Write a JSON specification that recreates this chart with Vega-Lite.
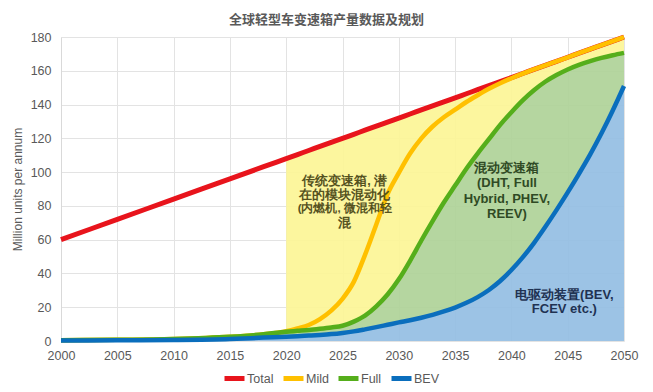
{
  "$schema": "https://vega.github.io/schema/vega-lite/v6.json",
  "width": 563,
  "height": 304,
  "autosize": {"type": "none"},
  "padding": {"left": 61, "top": 37, "right": 29, "bottom": 51},
  "background": "white",
  "config": {
    "font": "Liberation Sans",
    "view": {"stroke": null},
    "axis": {"labelColor": "#595959", "labelFontSize": 12.5, "gridColor": "#e3e3e3", "ticks": false, "labelOverlap": false, "labelFlush": false},
    "axisY": {"tickCount": 20},
    "axisX": {"tickCount": 20}
  },
  "title": {"text": "全球轻型车变速箱产量数据及规划", "fontSize": 13, "fontWeight": "bold", "color": "#595959", "font": "Noto Sans CJK SC", "dx": -16, "offset": 0},
  "datasets": {
    "series": [
      {"year": 2000, "Total": 60, "Mild": 0.5, "Full": 0.5, "BEV": 0.3},
      {"year": 2005, "Total": 72, "Mild": 0.7, "Full": 0.7, "BEV": 0.4},
      {"year": 2010, "Total": 84, "Mild": 1.2, "Full": 1.2, "BEV": 0.6},
      {"year": 2015, "Total": 96, "Mild": 2.5, "Full": 2.5, "BEV": 1.2},
      {"year": 2018, "Total": 103.2, "Mild": 4, "Full": 4, "BEV": 2},
      {"year": 2020, "Total": 108, "Mild": 5.8, "Full": 5.5, "BEV": 2.5},
      {"year": 2021, "Total": 110.4, "Mild": 7.5, "Full": 6, "BEV": 2.8},
      {"year": 2022, "Total": 112.8, "Mild": 9.5, "Full": 6.5, "BEV": 3.2},
      {"year": 2023, "Total": 115.2, "Mild": 13, "Full": 7.2, "BEV": 3.6},
      {"year": 2024, "Total": 117.6, "Mild": 18, "Full": 8, "BEV": 4.1},
      {"year": 2025, "Total": 120, "Mild": 25, "Full": 9, "BEV": 4.8},
      {"year": 2026, "Total": 122.4, "Mild": 35, "Full": 11.5, "BEV": 5.7},
      {"year": 2027, "Total": 124.8, "Mild": 51, "Full": 15, "BEV": 6.9},
      {"year": 2028, "Total": 127.2, "Mild": 69, "Full": 20.5, "BEV": 8.2},
      {"year": 2029, "Total": 129.6, "Mild": 87, "Full": 27.5, "BEV": 9.6},
      {"year": 2030, "Total": 132, "Mild": 99.5, "Full": 36.5, "BEV": 11},
      {"year": 2031, "Total": 134.4, "Mild": 111, "Full": 47.5, "BEV": 12.3},
      {"year": 2032, "Total": 136.8, "Mild": 120, "Full": 59.5, "BEV": 13.8},
      {"year": 2033, "Total": 139.2, "Mild": 127, "Full": 71, "BEV": 15.5},
      {"year": 2034, "Total": 141.6, "Mild": 132.5, "Full": 82, "BEV": 17.5},
      {"year": 2035, "Total": 144, "Mild": 137, "Full": 92, "BEV": 19.8},
      {"year": 2036, "Total": 146.4, "Mild": 141.5, "Full": 102, "BEV": 22.6},
      {"year": 2037, "Total": 148.8, "Mild": 145.5, "Full": 111, "BEV": 26},
      {"year": 2038, "Total": 151.2, "Mild": 149.3, "Full": 119.5, "BEV": 30.2},
      {"year": 2039, "Total": 153.6, "Mild": 152.6, "Full": 128, "BEV": 35.5},
      {"year": 2040, "Total": 156, "Mild": 155.6, "Full": 135.5, "BEV": 42},
      {"year": 2041, "Total": 158.4, "Mild": 158.3, "Full": 142.5, "BEV": 49.5},
      {"year": 2042, "Total": 160.8, "Mild": 160.8, "Full": 148.5, "BEV": 58},
      {"year": 2043, "Total": 163.2, "Mild": 163.2, "Full": 153.5, "BEV": 67.5},
      {"year": 2044, "Total": 165.6, "Mild": 165.6, "Full": 157.5, "BEV": 77.5},
      {"year": 2045, "Total": 168, "Mild": 168, "Full": 160.8, "BEV": 88},
      {"year": 2046, "Total": 170.4, "Mild": 170.4, "Full": 163.5, "BEV": 99},
      {"year": 2047, "Total": 172.8, "Mild": 172.8, "Full": 165.7, "BEV": 110.5},
      {"year": 2048, "Total": 175.2, "Mild": 175.2, "Full": 167.6, "BEV": 123},
      {"year": 2049, "Total": 177.6, "Mild": 177.6, "Full": 169.2, "BEV": 136.5},
      {"year": 2050, "Total": 180, "Mild": 180, "Full": 170.6, "BEV": 151}
    ],
    "labels": [
      {"group": "conv", "year": 2025.2, "value": 94.7, "text": "传统变速箱, 潜"},
      {"group": "conv", "year": 2025.2, "value": 86.4, "text": "在的模块混动化"},
      {"group": "conv_small", "year": 2025.2, "value": 77.9, "text": "(内燃机, 微混和轻"},
      {"group": "conv", "year": 2025.2, "value": 70.1, "text": "混"},
      {"group": "hybrid", "year": 2039.6, "value": 102.6, "text": "混动变速箱"},
      {"group": "hybrid", "year": 2039.6, "value": 93.3, "text": "(DHT, Full"},
      {"group": "hybrid", "year": 2039.6, "value": 84.3, "text": "Hybrid, PHEV,"},
      {"group": "hybrid", "year": 2039.6, "value": 75.4, "text": "REEV)"},
      {"group": "bev", "year": 2044.7, "value": 27.2, "text": "电驱动装置(BEV,"},
      {"group": "bev", "year": 2044.7, "value": 19.2, "text": "FCEV etc.)"}
    ]
  },
  "layer": [
    {
      "data": {"name": "series"},
      "transform": [{"filter": "datum.year >= 2020"}],
      "mark": {"type": "area", "color": "#FCF596", "opacity": 0.92, "interpolate": "monotone"},
      "encoding": {
        "x": {"field": "year", "type": "quantitative", "scale": {"domain": [2000, 2050], "nice": false},
          "axis": {"values": [2000, 2005, 2010, 2015, 2020, 2025, 2030, 2035, 2040, 2045, 2050], "tickCount": 20, "format": "d", "title": null, "domain": false, "labelPadding": 8, "grid": true}},
        "y": {"field": "Total", "type": "quantitative", "scale": {"domain": [0, 180], "nice": false},
          "axis": {"values": [0, 20, 40, 60, 80, 100, 120, 140, 160, 180], "tickCount": 20, "title": "Million units per annum", "titleFontSize": 12, "titleFontWeight": "normal", "titleColor": "#595959", "titlePadding": 6, "domain": true, "domainColor": "#d9d9d9", "labelPadding": 10, "grid": true}},
        "y2": {"field": "Full"}
      }
    },
    {
      "data": {"name": "series"},
      "mark": {"type": "area", "color": "#ADD296", "opacity": 0.9, "interpolate": "monotone"},
      "encoding": {
        "x": {"field": "year", "type": "quantitative"},
        "y": {"field": "Full", "type": "quantitative"},
        "y2": {"field": "BEV"}
      }
    },
    {
      "data": {"name": "series"},
      "mark": {"type": "area", "color": "#94BEE3", "opacity": 0.93, "interpolate": "monotone"},
      "encoding": {
        "x": {"field": "year", "type": "quantitative"},
        "y": {"field": "BEV", "type": "quantitative"}
      }
    },
    {
      "data": {"name": "series"},
      "transform": [{"fold": ["Total", "Mild", "Full", "BEV"], "as": ["series", "val"]}, {"filter": "datum.series === 'Total'"}],
      "mark": {"type": "line", "strokeWidth": 5, "interpolate": "monotone"},
      "encoding": {
        "x": {"field": "year", "type": "quantitative"},
        "y": {"field": "val", "type": "quantitative"},
        "color": {"field": "series", "type": "nominal",
          "scale": {"domain": ["Total", "Mild", "Full", "BEV"], "range": ["#E8141C", "#FFC000", "#55AE1B", "#0A6EBD"]},
          "legend": {"orient": "none", "legendX": 161, "legendY": 329, "direction": "horizontal", "gridAlign": "none", "title": null, "symbolType": "stroke", "symbolStrokeWidth": 5, "symbolSize": 400, "labelFontSize": 12.5, "labelColor": "#595959", "labelOffset": 0, "columnPadding": -1}}
      }
    },
    {
      "data": {"name": "series"},
      "transform": [{"fold": ["Total", "Mild", "Full", "BEV"], "as": ["series", "val"]}, {"filter": "datum.series === 'Mild'"}],
      "mark": {"type": "line", "strokeWidth": 4.5, "interpolate": "monotone"},
      "encoding": {
        "x": {"field": "year", "type": "quantitative"},
        "y": {"field": "val", "type": "quantitative"},
        "color": {"field": "series", "type": "nominal"}
      }
    },
    {
      "data": {"name": "series"},
      "transform": [{"fold": ["Total", "Mild", "Full", "BEV"], "as": ["series", "val"]}, {"filter": "datum.series === 'Full'"}],
      "mark": {"type": "line", "strokeWidth": 4.5, "interpolate": "monotone"},
      "encoding": {
        "x": {"field": "year", "type": "quantitative"},
        "y": {"field": "val", "type": "quantitative"},
        "color": {"field": "series", "type": "nominal"}
      }
    },
    {
      "data": {"name": "series"},
      "transform": [{"fold": ["Total", "Mild", "Full", "BEV"], "as": ["series", "val"]}, {"filter": "datum.series === 'BEV'"}],
      "mark": {"type": "line", "strokeWidth": 4.5, "interpolate": "monotone"},
      "encoding": {
        "x": {"field": "year", "type": "quantitative"},
        "y": {"field": "val", "type": "quantitative"},
        "color": {"field": "series", "type": "nominal"}
      }
    },
    {
      "data": {"name": "labels"},
      "transform": [{"filter": "datum.group === 'conv'"}],
      "mark": {"type": "text", "fontSize": 12.5, "fontWeight": "bold", "color": "#55521E", "align": "center", "baseline": "middle"},
      "encoding": {
        "x": {"field": "year", "type": "quantitative"},
        "y": {"field": "value", "type": "quantitative"},
        "text": {"field": "text"}
      }
    },
    {
      "data": {"name": "labels"},
      "transform": [{"filter": "datum.group === 'conv_small'"}],
      "mark": {"type": "text", "fontSize": 11.5, "fontWeight": "bold", "color": "#55521E", "align": "center", "baseline": "middle"},
      "encoding": {
        "x": {"field": "year", "type": "quantitative"},
        "y": {"field": "value", "type": "quantitative"},
        "text": {"field": "text"}
      }
    },
    {
      "data": {"name": "labels"},
      "transform": [{"filter": "datum.group === 'hybrid'"}],
      "mark": {"type": "text", "fontSize": 13, "fontWeight": "bold", "color": "#2F4A24", "align": "center", "baseline": "middle"},
      "encoding": {
        "x": {"field": "year", "type": "quantitative"},
        "y": {"field": "value", "type": "quantitative"},
        "text": {"field": "text"}
      }
    },
    {
      "data": {"name": "labels"},
      "transform": [{"filter": "datum.group === 'bev'"}],
      "mark": {"type": "text", "fontSize": 13, "fontWeight": "bold", "color": "#1F3252", "align": "center", "baseline": "middle"},
      "encoding": {
        "x": {"field": "year", "type": "quantitative"},
        "y": {"field": "value", "type": "quantitative"},
        "text": {"field": "text"}
      }
    }
  ]
}
